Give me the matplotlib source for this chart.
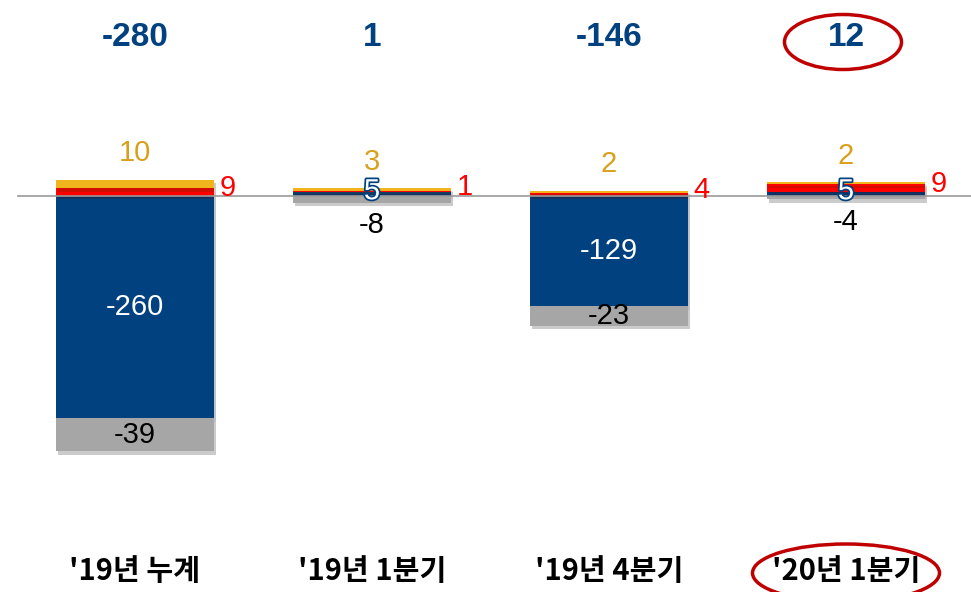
import matplotlib
matplotlib.use('Agg')
import matplotlib.pyplot as plt
import matplotlib.patheffects as pe
from matplotlib.patches import Ellipse
from matplotlib import font_manager
import numpy as np

# data
categories = ["'19년 누계", "'19년 1분기", "'19년 4분기", "'20년 1분기"]
blue_vals = [-260, 5, -129, 5]
gray_vals = [-39, -8, -23, -4]
red_vals = [9, 1, 4, 9]
yellow_vals = [10, 3, 2, 2]
totals = [-280, 1, -146, 12]

NAVY = '#02417F'
RED = '#FF0000'
YELLOW = '#F0B41C'
YELLOW_TXT = '#D9A01B'
GRAY = '#A6A6A6'
CIRCLE = '#C00000'

names = {f.name for f in font_manager.fontManager.ttflist}
narrow = 'Liberation Sans Narrow' if 'Liberation Sans Narrow' in names else 'Liberation Sans'
plt.rcParams['font.family'] = ['Liberation Sans', 'DejaVu Sans']

fig = plt.figure(figsize=(9.71, 5.92), dpi=100)
ax = fig.add_axes([0, 47 / 592, 1, 545 / 592])

x = np.arange(len(categories))
w = 0.667
shadow = [pe.SimplePatchShadow(offset=(1.5, -2.5), alpha=0.25), pe.Normal()]

blue = np.array(blue_vals)
gray = np.array(gray_vals)
red = np.array(red_vals)
yellow = np.array(yellow_vals)

# positive / negative stacking for blue
pos_base = np.where(blue > 0, blue, 0)
neg_base = np.where(blue < 0, blue, 0)

bars = []
bars += ax.bar(x, blue, w, color=NAVY, zorder=2)
bars += ax.bar(x, gray, w, bottom=neg_base, color=GRAY, zorder=2)
bars += ax.bar(x, red, w, bottom=pos_base, color=RED, zorder=2)
bars += ax.bar(x, yellow, w, bottom=pos_base + red, color=YELLOW, zorder=2)
for b in bars:
    b.set_path_effects(shadow)

ax.axhline(0, xmin=18 / 971, xmax=1, color='#999999', lw=1.2, zorder=3)

lab_fs = 21
for i in range(len(x)):
    top = pos_base[i] + red[i] + yellow[i]
    # yellow label above the stack
    ax.annotate(str(yellow[i]), (x[i], top), xytext=(0, 9), textcoords='offset points',
                ha='center', va='bottom', fontsize=lab_fs, color=YELLOW_TXT, zorder=5)
    # red label right of the bar
    ax.annotate(str(red[i]), (x[i] + w / 2, pos_base[i] + red[i] / 2), xytext=(4, 3),
                textcoords='offset points', ha='left', va='center',
                fontsize=lab_fs, color=RED, zorder=5)
    # blue label
    if abs(blue[i]) > 30:
        ax.text(x[i], blue[i] / 2, str(blue[i]), ha='center', va='center',
                fontsize=lab_fs, color='white', zorder=5)
    else:
        ax.text(x[i], blue[i] / 2 + 3, str(blue[i]), ha='center', va='center',
                fontsize=lab_fs, color='white', zorder=5,
                path_effects=[pe.withStroke(linewidth=2.5, foreground=NAVY)])
    # gray label
    gbot = neg_base[i] + gray[i]
    if abs(gray[i]) > 20:
        ax.text(x[i], neg_base[i] + gray[i] / 2, str(gray[i]), ha='center', va='center',
                fontsize=lab_fs, color='black', zorder=5)
    else:
        ax.annotate(str(gray[i]), (x[i], gbot), xytext=(0, -6), textcoords='offset points',
                    ha='center', va='top', fontsize=lab_fs, color='black', zorder=5)

# totals along the top
for i, t in enumerate(totals):
    ax.text(x[i], 0.932, str(t), transform=ax.get_xaxis_transform(), ha='center',
            va='center', fontsize=24, fontweight='bold', color=NAVY, family=narrow)

ax.set_xlim(-135 / 237, (971 - 135) / 237)
ax.set_ylim(-(545 - 196) / 0.854, 196 / 0.854)
ax.set_xticks(x, categories)
ax.tick_params(axis='x', length=0, pad=8)
for t in ax.get_xticklabels():
    t.set_family(['Noto Sans CJK KR', 'DejaVu Sans'])
    t.set_fontweight('bold')
    t.set_fontsize(21)
ax.set_yticks([])
for s in ax.spines.values():
    s.set_visible(False)

# red circles around the latest quarter
fig.patches.append(Ellipse((843 / 971, 1 - 42 / 592), 117 / 971, 55 / 592,
                           transform=fig.transFigure, fill=False, ec=CIRCLE, lw=2.5))
fig.patches.append(Ellipse((846 / 971, 1 - 573 / 592), 187 / 971, 58 / 592,
                           transform=fig.transFigure, fill=False, ec=CIRCLE, lw=2.5))

fig.savefig('out.png', dpi=100)
plt.close(fig)
